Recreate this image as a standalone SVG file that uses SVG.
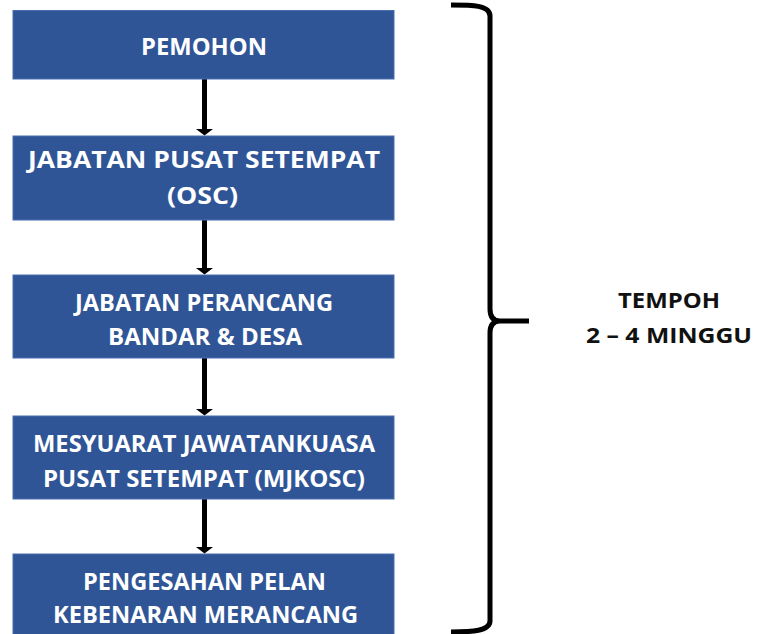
<svg xmlns="http://www.w3.org/2000/svg" width="771" height="634" viewBox="0 0 771 634">
<defs>
<style>
.box{fill:#2F5597;stroke:#4A6FB0;stroke-width:1}
.bt{fill:#fff;font-family:"Open Sans","Noto Sans","Liberation Sans",sans-serif;font-weight:700;font-size:23px;text-anchor:middle}
.lt{fill:#111;font-family:"Open Sans","Noto Sans","Liberation Sans",sans-serif;font-weight:700;font-size:21px;text-anchor:middle}
.conn{stroke:#000;stroke-width:5;fill:none}
.brace{stroke:#000;stroke-width:5;fill:none;stroke-linecap:butt;stroke-linejoin:round}
</style>
<marker id="ah" markerUnits="userSpaceOnUse" markerWidth="18" markerHeight="8" refX="8.5" refY="6" orient="auto-start-reverse" viewBox="0 0 17 6">
<path d="M0,0 L17,0 L8.5,6 Z" fill="#000"/>
</marker>
</defs>
<rect width="771" height="634" fill="#fff"/>
<g id="connectors">
<path class="conn" d="M204.5,79 L204.5,130"/>
<path d="M196,129 L213,129 L204.5,135.5 Z" fill="#000"/>
<path class="conn" d="M204.5,220 L204.5,269"/>
<path d="M196,268 L213,268 L204.5,274.5 Z" fill="#000"/>
<path class="conn" d="M204.5,358 L204.5,410"/>
<path d="M196,409 L213,409 L204.5,415.5 Z" fill="#000"/>
<path class="conn" d="M204.5,499 L204.5,548"/>
<path d="M196,547 L213,547 L204.5,553.5 Z" fill="#000"/>
</g>
<g id="n1">
<rect class="box" x="13" y="10.5" width="381" height="68.5"/>
<text class="bt" x="204" y="55" textLength="126" lengthAdjust="spacingAndGlyphs">PEMOHON</text>
</g>
<g id="n2">
<rect class="box" x="13" y="136" width="381" height="84"/>
<text class="bt" x="204" y="168.3" textLength="352" lengthAdjust="spacingAndGlyphs">JABATAN PUSAT SETEMPAT</text>
<text class="bt" x="202.5" y="204" textLength="71" lengthAdjust="spacingAndGlyphs">(OSC)</text>
</g>
<g id="n3">
<rect class="box" x="13" y="275" width="381" height="83"/>
<text class="bt" x="204" y="310.7" textLength="258" lengthAdjust="spacingAndGlyphs">JABATAN PERANCANG</text>
<text class="bt" x="205" y="345" textLength="194" lengthAdjust="spacingAndGlyphs">BANDAR &amp; DESA</text>
</g>
<g id="n4">
<rect class="box" x="13" y="416" width="381" height="83"/>
<text class="bt" x="204" y="451.7" textLength="342" lengthAdjust="spacingAndGlyphs">MESYUARAT JAWATANKUASA</text>
<text class="bt" x="204" y="486.7" textLength="322" lengthAdjust="spacingAndGlyphs">PUSAT SETEMPAT (MJKOSC)</text>
</g>
<g id="n5">
<rect class="box" x="13" y="554" width="381" height="84"/>
<text class="bt" x="204.5" y="590" textLength="243" lengthAdjust="spacingAndGlyphs">PENGESAHAN PELAN</text>
<text class="bt" x="205.5" y="623" textLength="305" lengthAdjust="spacingAndGlyphs">KEBENARAN MERANCANG</text>
</g>
<g id="brace">
<path class="brace" d="M451,5 C472,5 490,5 490,16 L490,309 C490,318 494,321 500,321 L529,321 M500,321 C494,321 490,324 490,333 L490,621 C490,631 472,632 451,632"/>
</g>
<g id="label">
<text class="lt" x="669" y="308" textLength="102" lengthAdjust="spacingAndGlyphs">TEMPOH</text>
<text class="lt" x="669" y="343" textLength="166" lengthAdjust="spacingAndGlyphs">2 – 4 MINGGU</text>
</g>
</svg>
